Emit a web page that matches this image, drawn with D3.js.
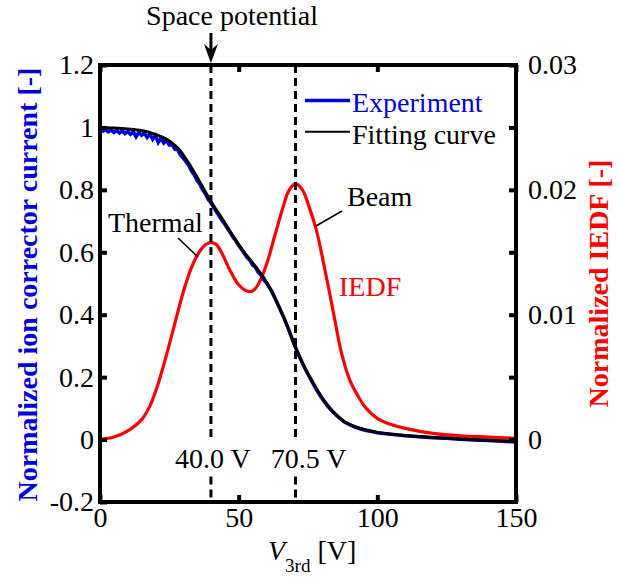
<!DOCTYPE html>
<html>
<head>
<meta charset="utf-8">
<script src="https://cdn.jsdelivr.net/npm/d3@7"></script>
<style>
    body { margin: 0; background: #fff; }
    text { font-family: "Liberation Serif", "Times New Roman", serif; }
</style>
</head>
<body>
<div id="chart"></div>
<script>
// Retarding potential: bias voltage of 3rd grid [V]
const voltFit = [0, 5, 10, 15, 20, 24, 28, 32, 36, 40, 44, 48, 52, 56, 60, 64, 67, 70, 73, 76, 80, 84, 88, 92, 96, 100, 110, 120, 130, 140, 150];
const currentFit = [1.000, 0.998, 0.995, 0.990, 0.978, 0.962, 0.935, 0.885, 0.825, 0.763, 0.708, 0.652, 0.600, 0.555, 0.505, 0.435, 0.375, 0.305, 0.245, 0.195, 0.135, 0.090, 0.058, 0.041, 0.031, 0.023, 0.013, 0.007, 0.002, -0.002, -0.006];

const voltExp = [0, 1, 2, 3, 4, 5, 6, 7, 8, 9, 10, 11, 12, 13, 14, 15, 16, 17, 18, 19, 20, 21, 22, 23, 24, 25, 26, 27, 28, 29, 30, 31, 32, 33, 34, 35, 36, 37, 38, 39, 40, 41, 42, 43, 44, 45, 46, 47, 48, 49, 50, 51, 52, 53, 54, 55, 56, 57, 58, 59, 60, 62, 64, 66, 68, 70, 72, 74, 76, 78, 80, 82, 84, 86, 88, 90, 92, 94, 96, 98, 100, 105, 110, 115, 120, 125, 130, 135, 140, 145, 150];
const currentExp = [0.995, 0.988, 0.993, 0.986, 0.992, 0.984, 0.990, 0.982, 0.989, 0.980, 0.987, 0.978, 0.986, 0.970, 0.984, 0.975, 0.982, 0.968, 0.979, 0.962, 0.974, 0.952, 0.966, 0.950, 0.958, 0.944, 0.944, 0.930, 0.928, 0.912, 0.902, 0.890, 0.878, 0.860, 0.848, 0.830, 0.818, 0.800, 0.788, 0.770, 0.758, 0.744, 0.730, 0.716, 0.702, 0.690, 0.676, 0.662, 0.648, 0.636, 0.622, 0.610, 0.597, 0.584, 0.575, 0.559, 0.553, 0.536, 0.528, 0.513, 0.502, 0.474, 0.436, 0.397, 0.354, 0.306, 0.264, 0.226, 0.193, 0.160, 0.132, 0.108, 0.088, 0.072, 0.057, 0.048, 0.040, 0.034, 0.029, 0.026, 0.022, 0.017, 0.012, 0.009, 0.006, 0.004, 0.001, -0.001, -0.003, -0.005, -0.008];

const voltIedf = [0, 5, 10, 15, 18, 21, 24, 27, 30, 33, 36, 38, 40, 42, 44, 47, 50, 53, 55, 57, 60, 63, 66, 68, 70.5, 73, 75, 78, 81, 83, 85, 87, 90, 93, 96, 100, 105, 110, 120, 130, 140, 150];
const iedf = [0.0000, 0.0002, 0.0007, 0.0016, 0.0027, 0.0045, 0.0068, 0.0093, 0.0118, 0.0138, 0.0151, 0.0156, 0.0158, 0.0156, 0.0149, 0.0135, 0.0124, 0.0119, 0.0119, 0.0124, 0.0140, 0.0163, 0.0186, 0.0199, 0.0205, 0.0200, 0.0189, 0.0168, 0.0137, 0.0115, 0.0092, 0.0070, 0.0048, 0.0035, 0.0025, 0.0017, 0.0012, 0.0009, 0.0005, 0.0003, 0.0002, 0.0001];

// Marked voltages (space potential / beam peak)
const markVolts = [40.0, 70.5];
const markLabels = ["40.0 V", "70.5 V"];

const xTicks = [0, 50, 100, 150];
const leftTicks = [-0.2, 0, 0.2, 0.4, 0.6, 0.8, 1, 1.2];
const leftTickLabels = ["-0.2", "0", "0.2", "0.4", "0.6", "0.8", "1", "1.2"];
const rightTicks = [0, 0.005, 0.01, 0.015, 0.02, 0.025, 0.03];
const rightTickLabels = ["0", "", "0.01", "", "0.02", "", "0.03"];

const W = 620, H = 579;
const margin = { top: 65, right: 104, bottom: 77, left: 100 };

const svg = d3.select("#chart")
    .append("svg")
    .attr("width", W)
    .attr("height", H);

const x = d3.scaleLinear().domain([0, 150]).range([margin.left, W - margin.right]);
const yL = d3.scaleLinear().domain([-0.2, 1.2]).range([H - margin.bottom, margin.top]);
const yR = d3.scaleLinear().domain([-0.005, 0.03]).range([H - margin.bottom, margin.top]);

svg.append("clipPath").attr("id", "plot")
    .append("rect")
    .attr("x", x(0)).attr("y", yL(1.2))
    .attr("width", x(150) - x(0)).attr("height", yL(-0.2) - yL(1.2));

const curves = svg.append("g").attr("clip-path", "url(#plot)");

// IEDF (right axis)
curves.append("path")
    .datum(voltIedf.map((v, i) => [v, iedf[i]]))
    .attr("fill", "none")
    .attr("stroke", "#ff0000")
    .attr("stroke-width", 3.2)
    .attr("d", d3.line().x(d => x(d[0])).y(d => yR(d[1])).curve(d3.curveCatmullRom.alpha(0.5)));

// Experiment (noisy)
curves.append("path")
    .datum(voltExp.map((v, i) => [v, currentExp[i]]))
    .attr("fill", "none")
    .attr("stroke", "#0000dd")
    .attr("stroke-width", 3.5)
    .attr("d", d3.line().x(d => x(d[0])).y(d => yL(d[1])));

// Fitting curve
curves.append("path")
    .datum(voltFit.map((v, i) => [v, currentFit[i]]))
    .attr("fill", "none")
    .attr("stroke", "#000")
    .attr("stroke-width", 3)
    .attr("d", d3.line().x(d => x(d[0])).y(d => yL(d[1])).curve(d3.curveCatmullRom.alpha(0.5)));

// Dashed marker lines, broken where the labels sit
const gapTop = yL(-0.007), gapBottom = yL(-0.118);
markVolts.forEach(v => {
    [[yL(1.2), gapTop], [gapBottom, yL(-0.2)]].forEach(([a, b]) => {
        svg.append("line")
            .attr("x1", x(v)).attr("x2", x(v))
            .attr("y1", a).attr("y2", b)
            .attr("stroke", "#000")
            .attr("stroke-width", 3)
            .attr("stroke-dasharray", "8,5");
    });
});

svg.selectAll(".mark-label")
    .data(markVolts)
    .enter()
    .append("text")
    .attr("class", "mark-label")
    .attr("x", (d, i) => x(d) + (i === 0 ? 2 : 13))
    .attr("y", yL(-0.09))
    .attr("text-anchor", "middle")
    .style("font-size", "28px")
    .text((d, i) => markLabels[i]);

// Axes (ticks pointing inward)
function styleAxis(g) {
    g.select(".domain").remove();
    g.selectAll(".tick line").attr("stroke", "#000").attr("stroke-width", 4);
    g.selectAll(".tick text")
        .style("font-family", "'Liberation Serif', serif")
        .style("font-size", "28px")
        .attr("fill", "#000");
}

svg.append("g")
    .attr("transform", `translate(${x(0)},0)`)
    .call(d3.axisLeft(yL).tickValues(leftTicks).tickSizeInner(-7).tickSizeOuter(0).tickPadding(6)
        .tickFormat((d, i) => leftTickLabels[i]))
    .call(styleAxis);

svg.append("g")
    .attr("transform", `translate(${x(150)},0)`)
    .call(d3.axisRight(yR).tickValues(rightTicks).tickSizeInner(-7).tickSizeOuter(0).tickPadding(12)
        .tickFormat((d, i) => rightTickLabels[i]))
    .call(styleAxis);

svg.append("g")
    .attr("transform", `translate(0,${yL(-0.2)})`)
    .call(d3.axisBottom(x).tickValues(xTicks).tickSizeInner(-7).tickSizeOuter(0).tickPadding(5)
        .tickFormat(d3.format("d")))
    .call(styleAxis);

svg.append("g")
    .attr("transform", `translate(0,${yL(1.2)})`)
    .call(d3.axisTop(x).tickValues(xTicks).tickSizeInner(-7).tickSizeOuter(0).tickFormat(""))
    .call(styleAxis);

// Frame
svg.append("rect")
    .attr("x", x(0)).attr("y", yL(1.2))
    .attr("width", x(150) - x(0)).attr("height", yL(-0.2) - yL(1.2))
    .attr("fill", "none")
    .attr("stroke", "#000")
    .attr("stroke-width", 4);

// Axis titles
svg.append("text")
    .attr("transform", `translate(37,${(yL(1.2) + yL(-0.2)) / 2 + 1}) rotate(-90)`)
    .attr("text-anchor", "middle")
    .attr("fill", "#0000dd")
    .style("font-size", "28px")
    .style("font-weight", "bold")
    .text("Normalized ion corrector current [-]");

svg.append("text")
    .attr("transform", `translate(608,${(yL(1.2) + yL(-0.2)) / 2}) rotate(-90)`)
    .attr("text-anchor", "middle")
    .attr("fill", "#ff0000")
    .style("font-size", "28px")
    .style("font-weight", "bold")
    .text("Normalized IEDF [-]");

const xTitle = svg.append("text")
    .attr("x", 268)
    .attr("y", 560)
    .style("font-size", "28px");
xTitle.append("tspan").style("font-style", "italic").text("V");
xTitle.append("tspan").attr("dy", 12).style("font-size", "19px").text("3rd");
xTitle.append("tspan").attr("dy", -12).text(" [V]");

// Legend
const legend = [
    { label: "Experiment", color: "#0000dd", width: 3.5, y: 1.0 },
    { label: "Fitting curve", color: "#000", width: 2, y: 0.9 }
];
legend.forEach(d => {
    svg.append("line")
        .attr("x1", 305).attr("x2", 350)
        .attr("y1", yL(d.y) - 27).attr("y2", yL(d.y) - 27)
        .attr("stroke", d.color)
        .attr("stroke-width", d.width);
    svg.append("text")
        .attr("x", 352)
        .attr("y", yL(d.y) - 15)
        .attr("fill", d.color)
        .style("font-size", "28px")
        .text(d.label);
});

// Peak annotations
svg.append("text").attr("x", 108).attr("y", 232).style("font-size", "28px").text("Thermal");
svg.append("line").attr("x1", 178).attr("y1", 238).attr("x2", 198).attr("y2", 257)
    .attr("stroke", "#000").attr("stroke-width", 1.5);

svg.append("text").attr("x", 347).attr("y", 206).style("font-size", "28px").text("Beam");
svg.append("line").attr("x1", 342).attr("y1", 211).attr("x2", 316).attr("y2", 226)
    .attr("stroke", "#000").attr("stroke-width", 1.5);

svg.append("text").attr("x", 339).attr("y", 296).attr("fill", "#ff0000")
    .style("font-size", "28px").text("IEDF");

// Space potential arrow
svg.append("text")
    .attr("x", 232)
    .attr("y", 25)
    .attr("text-anchor", "middle")
    .style("font-size", "28px")
    .text("Space potential");

const ax = x(markVolts[0]);
svg.append("line")
    .attr("x1", ax).attr("x2", ax)
    .attr("y1", 33).attr("y2", 52)
    .attr("stroke", "#000").attr("stroke-width", 3);
svg.append("path")
    .attr("d", `M${ax - 7},${44} L${ax},${63} L${ax + 7},${44} L${ax},${50} Z`)
    .attr("fill", "#000");
</script>
</body>
</html>
